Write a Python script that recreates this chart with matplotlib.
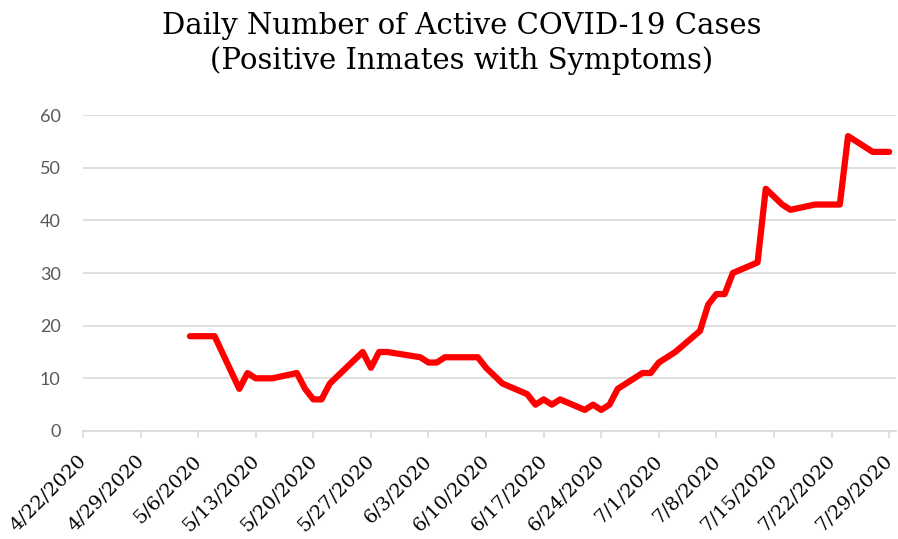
import matplotlib
matplotlib.use("Agg")
import matplotlib.pyplot as plt
from matplotlib.transforms import ScaledTranslation
import pandas as pd

# daily active cases (weekdays only)
dates = ["2020-05-05", "2020-05-06", "2020-05-07", "2020-05-08",
         "2020-05-11", "2020-05-12", "2020-05-13", "2020-05-14", "2020-05-15",
         "2020-05-18", "2020-05-19", "2020-05-20", "2020-05-21", "2020-05-22",
         "2020-05-26", "2020-05-27", "2020-05-28", "2020-05-29",
         "2020-06-02", "2020-06-03", "2020-06-04", "2020-06-05",
         "2020-06-09", "2020-06-10", "2020-06-12",
         "2020-06-15", "2020-06-16", "2020-06-17", "2020-06-18", "2020-06-19",
         "2020-06-22", "2020-06-23", "2020-06-24", "2020-06-25", "2020-06-26",
         "2020-06-29", "2020-06-30", "2020-07-01", "2020-07-03",
         "2020-07-06", "2020-07-07", "2020-07-08", "2020-07-09", "2020-07-10",
         "2020-07-13", "2020-07-14", "2020-07-16", "2020-07-17",
         "2020-07-20", "2020-07-21", "2020-07-22", "2020-07-23", "2020-07-24",
         "2020-07-27", "2020-07-28", "2020-07-29"]
active = [18, 18, 18, 18,
          8, 11, 10, 10, 10,
          11, 8, 6, 6, 9,
          15, 12, 15, 15,
          14, 13, 13, 14,
          14, 12, 9,
          7, 5, 6, 5, 6,
          4, 5, 4, 5, 8,
          11, 11, 13, 15,
          19, 24, 26, 26, 30,
          32, 46, 43, 42,
          43, 43, 43, 43, 56,
          53, 53, 53]

tick_dates = pd.date_range("2020-04-22", "2020-07-29", freq="7D")
tick_labels = ["{}/{}/{}".format(d.month, d.day, d.year) for d in tick_dates]
y_ticks = [0, 10, 20, 30, 40, 50, 60]

x = pd.to_datetime(dates)

fig = plt.figure(figsize=(8.98, 5.39), dpi=100)
ax = fig.add_axes([0.0924, 0.2004, 0.9054, 0.5862])

ax.plot(x, active, color="#ff0000", linewidth=4.5,
        solid_capstyle="round", solid_joinstyle="round", zorder=3)

ax.set_ylim(0, 60)
ax.set_yticks(y_ticks)
ax.set_yticklabels([str(v) for v in y_ticks], fontsize=13,
                   family="Lato", color="#595959")
ax.yaxis.grid(True, color="#d9d9d9", linewidth=1.2)
ax.tick_params(axis="y", length=0, pad=16)

ax.set_xlim(pd.Timestamp("2020-04-22"), pd.Timestamp("2020-07-29 20:00"))
ax.set_xticks(tick_dates)
ax.set_xticklabels(tick_labels, rotation=45, ha="right",
                   rotation_mode="anchor", fontsize=14,
                   family="DejaVu Serif", color="black")
ax.tick_params(axis="x", length=5, width=1.2, color="#d9d9d9", pad=10)
# nudge the labels a little left so the last one stays inside the figure
shift = ScaledTranslation(-4 / 72, 0, fig.dpi_scale_trans)
for lab in ax.get_xticklabels():
    lab.set_transform(lab.get_transform() + shift)

for s in ["top", "right", "left"]:
    ax.spines[s].set_visible(False)
ax.spines["bottom"].set_color("#d9d9d9")
ax.spines["bottom"].set_linewidth(1.2)
ax.set_axisbelow(True)

fig.text(0.514, 0.978, "Daily Number of Active COVID-19 Cases\n(Positive Inmates with Symptoms)",
         ha="center", va="top", fontsize=21, family="DejaVu Serif",
         linespacing=1.3)

plt.savefig("out.png", dpi=100)
